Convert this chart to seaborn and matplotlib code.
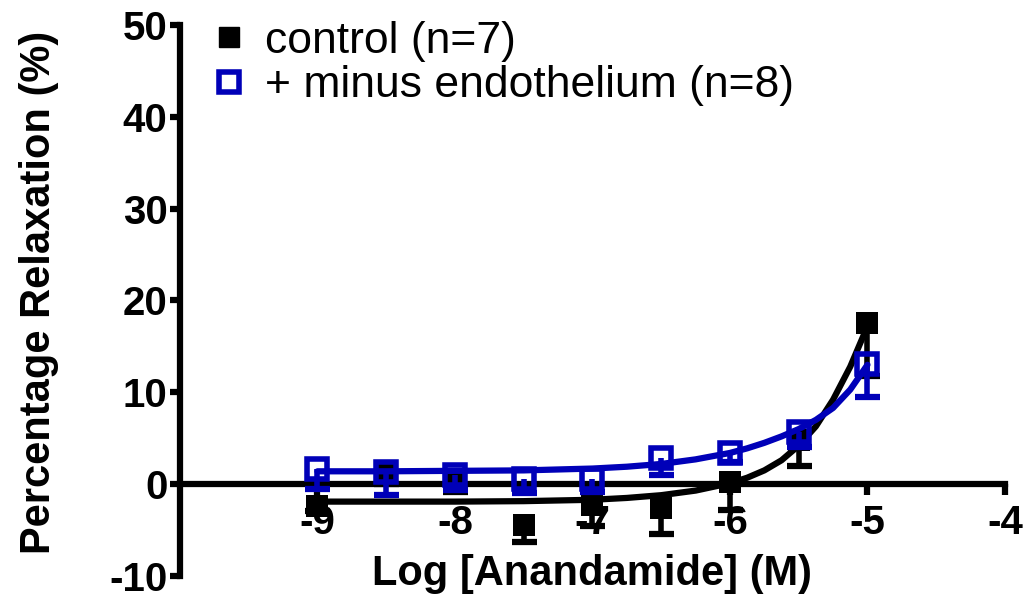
import numpy as np
import matplotlib
matplotlib.use("Agg")
import matplotlib.pyplot as plt
from matplotlib.lines import Line2D
import seaborn as sns

# -- Data --
log_conc = [-9, -8.5, -8, -7.5, -7, -6.5, -6, -5.5, -5]
control_mean = [-2.4, 1.0, 0.6, -4.5, -2.3, -2.6, 0.2, 4.8, 17.5]
control_sem = [0.5, 1.0, 1.4, 1.8, 2.3, 2.8, 3.0, 2.8, 5.7]
minus_endo_mean = [1.7, 1.3, 1.0, 0.6, 0.6, 2.9, 3.4, 5.7, 13.1]
minus_endo_sem = [2.2, 2.5, 1.6, 1.6, 1.5, 1.9, 1.0, 1.7, 3.6]

# fitted curves
curve_x = [-9, -8.5, -8, -7.5, -7, -6.75, -6.5, -6.25, -6, -5.875, -5.75,
           -5.625, -5.5, -5.375, -5.25, -5.125, -5]
control_fit = [-1.9, -1.9, -1.9, -1.85, -1.7, -1.5, -1.2, -0.7, 0.1, 0.7,
               1.5, 2.6, 4.2, 6.3, 9.2, 12.8, 17.2]
minus_endo_fit = [1.4, 1.4, 1.45, 1.5, 1.7, 1.9, 2.2, 2.7, 3.4, 3.9, 4.5,
                  5.2, 6.0, 7.0, 8.3, 10.3, 13.0]

labels = ["control (n=7)", "+ minus endothelium (n=8)"]
x_ticks = [-9, -8, -7, -6, -5, -4]
y_ticks = [-10, 0, 10, 20, 30, 40, 50]

BLUE = "#0000B8"


def draw_series(ax, mean, sem, fit, color, open_marker, z):
    """Fitted curve, downward error bars and square markers for one group."""
    lower = np.array(mean) - np.array(sem)
    zeros = np.zeros(len(mean))

    sns.lineplot(x=curve_x, y=fit, color=color, lw=4.5, sort=False,
                 estimator=None, ax=ax, zorder=z)
    ax.errorbar(log_conc, mean, yerr=[sem, zeros], fmt="none", ecolor=color,
                elinewidth=4, capsize=0, zorder=z + 1)
    ax.plot(log_conc, lower, ls="none", marker="_", ms=18, mew=4.5,
            color=color, zorder=z + 1)
    if open_marker:
        ax.plot(log_conc, mean, ls="none", marker="s", ms=15, mfc="none",
                mec=color, mew=4, zorder=z + 2)
    else:
        sns.scatterplot(x=log_conc, y=mean, marker="s", s=250, color=color,
                        edgecolor=color, linewidth=0, ax=ax, zorder=z + 2)


def main():
    sns.set_style("ticks")
    plt.rcParams["font.family"] = ["Liberation Sans", "DejaVu Sans"]
    for key in ["text.color", "axes.labelcolor", "xtick.color", "ytick.color",
                "axes.edgecolor"]:
        plt.rcParams[key] = "black"

    fig = plt.figure(figsize=(10.32, 5.98), dpi=100)
    ax = fig.add_axes([0.1744, 0.0368, 0.7994, 0.9214])

    draw_series(ax, control_mean, control_sem, control_fit, "black", False, 2)
    draw_series(ax, minus_endo_mean, minus_endo_sem, minus_endo_fit, BLUE,
                True, 6)

    ax.set_xlim(-10, -4)
    ax.set_ylim(-10, 50)
    ax.set_xticks(x_ticks)
    ax.set_yticks(y_ticks)
    ax.set_xticklabels([str(t) for t in x_ticks])
    ax.set_yticklabels([str(t) for t in y_ticks])

    ax.spines["top"].set_visible(False)
    ax.spines["right"].set_visible(False)
    ax.spines["bottom"].set_position(("data", 0))
    for side in ["left", "bottom"]:
        ax.spines[side].set_linewidth(4.5)
    ax.tick_params(axis="y", width=4.5, length=7, labelsize=29, pad=2)
    ax.tick_params(axis="x", width=4.5, length=8, labelsize=29, pad=6)
    for lbl in ax.get_xticklabels() + ax.get_yticklabels():
        lbl.set_fontweight("bold")

    ax.set_xlabel("Log [Anandamide] (M)", fontsize=30, fontweight="bold",
                  labelpad=9)
    ax.set_ylabel("Percentage Relaxation (%)", fontsize=30,
                  fontweight="bold", labelpad=36)
    ax.yaxis.label.set_y(0.515)

    handles = [
        Line2D([], [], ls="none", marker="s", ms=15, color="black"),
        Line2D([], [], ls="none", marker="s", ms=15, mfc="none", mec=BLUE,
               mew=4),
    ]
    ax.legend(handles, labels, loc="upper left", bbox_to_anchor=(0.022, 1.04),
              frameon=False, fontsize=32, handlelength=0.6, handletextpad=0.5,
              labelspacing=0.08, borderaxespad=0)

    fig.savefig("out.png", dpi=100)
    plt.close(fig)


if __name__ == "__main__":
    main()
